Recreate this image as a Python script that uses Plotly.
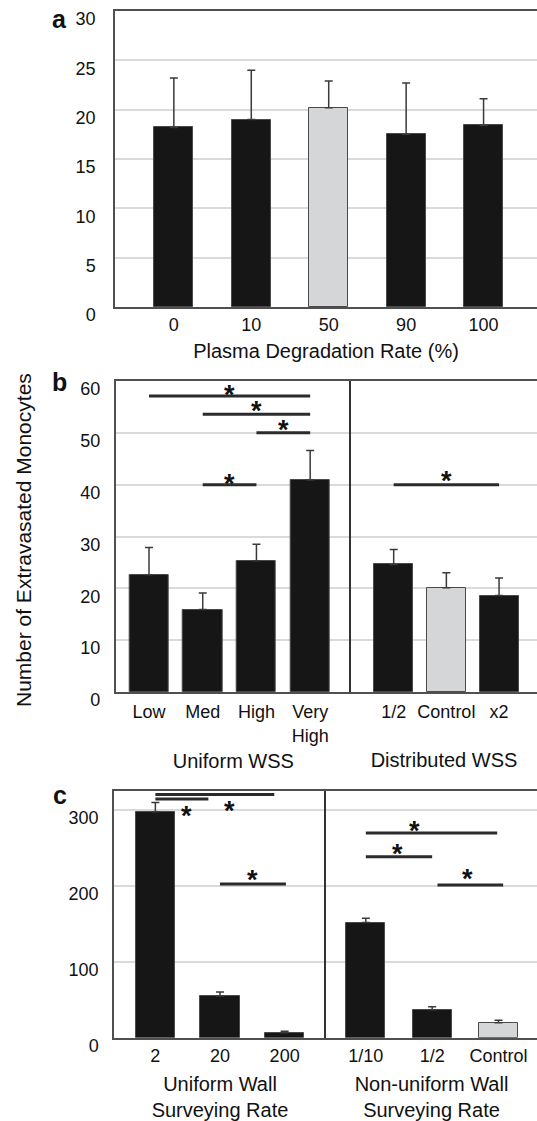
import plotly.graph_objects as go

# ---------------- data ----------------
# Panel a
a_cats = ["0", "10", "50", "90", "100"]
a_vals = [18.2, 19.0, 20.2, 17.5, 18.4]
a_err = [5.0, 5.0, 2.7, 5.2, 2.7]
a_ctrl = [False, False, True, False, False]

# Panel b
b1_cats = ["Low", "Med", "High", "Very<br>High"]
b1_vals = [22.6, 15.9, 25.3, 40.9]
b1_err = [5.3, 3.2, 3.2, 5.7]
b1_ctrl = [False, False, False, False]
b2_cats = ["1/2", "Control", "x2"]
b2_vals = [24.6, 20.1, 18.6]
b2_err = [2.9, 2.9, 3.4]
b2_ctrl = [False, True, False]

# Panel c
c1_cats = ["2", "20", "200"]
c1_vals = [297.8, 55.0, 6.6]
c1_err = [12.2, 5.3, 1.8]
c1_ctrl = [False, False, False]
c2_cats = ["1/10", "1/2", "Control"]
c2_vals = [151.7, 36.9, 19.8]
c2_err = [5.8, 4.0, 3.2]
c2_ctrl = [False, False, True]

# significance bars (category-index units, y in data units)
b1_sig_from = [0, 1, 2, 1]
b1_sig_to = [3, 3, 3, 2]
b1_sig_y = [57.1, 53.6, 50.0, 40.0]
b1_star_x = [1.5, 2.0, 2.5, 1.5]
b1_star_y = [58.5, 55.4, 51.7, 41.2]

b2_sig_from = [0]
b2_sig_to = [2]
b2_sig_y = [40.0]
b2_star_x = [1.0]
b2_star_y = [41.8]

c1_sig_from = [0, 0, 1]
c1_sig_to = [1.84, 0.82, 2.02]
c1_sig_y = [320.5, 314.5, 202.4]
c1_star_x = [0.485, 1.15, 1.5]
c1_star_y = [300.4, 306.0, 215.7]

c2_sig_from = [0, 0, 1.08]
c2_sig_to = [1.98, 1.0, 2.07]
c2_sig_y = [269.7, 238.4, 201.1]
c2_star_x = [0.74, 0.47, 1.54]
c2_star_y = [280.6, 249.9, 216.9]

# ---------------- style ----------------
W, H = 537, 1121
FONT = "Liberation Sans, Arial, Helvetica, sans-serif"
BAR = "#161616"
CTRL = "#d5d6d8"
AXC = "#505050"
GRID = "#dadada"
TICK = 18
TITLE = 20


def fx(p):
    return p / W


def fy(p):
    return 1 - p / H


fig = go.Figure()


def add_bars(cats, vals, err, ctrl, xa, ya, width):
    fig.add_trace(go.Bar(
        x=cats, y=vals, width=width,
        marker=dict(color=[CTRL if c else BAR for c in ctrl],
                    line=dict(color="#4a4a4a", width=1)),
        error_y=dict(type="data", array=err, arrayminus=[0] * len(err),
                     symmetric=False, color="#3a3a3a", thickness=1.5, width=4),
        xaxis=xa, yaxis=ya, showlegend=False, hoverinfo="x+y"))


add_bars(a_cats, a_vals, a_err, a_ctrl, "x", "y", 0.5)
add_bars(b1_cats, b1_vals, b1_err, b1_ctrl, "x2", "y2", 0.73)
add_bars(b2_cats, b2_vals, b2_err, b2_ctrl, "x3", "y3", 0.74)
add_bars(c1_cats, c1_vals, c1_err, c1_ctrl, "x4", "y4", 0.61)
add_bars(c2_cats, c2_vals, c2_err, c2_ctrl, "x5", "y5", 0.59)

shapes = []
annotations = []


def add_sig(xa, ya, f, t, yv, sx, sy):
    for x0, x1, y in zip(f, t, yv):
        shapes.append(dict(type="line", xref=xa, yref=ya, x0=x0, x1=x1, y0=y, y1=y,
                           line=dict(color="#2b2b2b", width=3)))
    for x, y in zip(sx, sy):
        annotations.append(dict(xref=xa, yref=ya, x=x, y=y, text="<b>*</b>",
                                showarrow=False, yanchor="middle", yshift=-6,
                                font=dict(family=FONT, size=27, color="#111")))


add_sig("x2", "y2", b1_sig_from, b1_sig_to, b1_sig_y, b1_star_x, b1_star_y)
add_sig("x3", "y3", b2_sig_from, b2_sig_to, b2_sig_y, b2_star_x, b2_star_y)
add_sig("x4", "y4", c1_sig_from, c1_sig_to, c1_sig_y, c1_star_x, c1_star_y)
add_sig("x5", "y5", c2_sig_from, c2_sig_to, c2_sig_y, c2_star_x, c2_star_y)

# panel letters and shared y title
for letter, px, py in [("a", 60, 19), ("b", 60, 382), ("c", 60, 795)]:
    annotations.append(dict(xref="paper", yref="paper", x=fx(px), y=fy(py), text="<b>%s</b>" % letter,
                            showarrow=False, xanchor="center", yanchor="middle",
                            font=dict(family=FONT, size=25, color="#111")))
annotations.append(dict(xref="paper", yref="paper", x=fx(24), y=fy(540),
                        text="Number of Extravasated Monocytes", textangle=-90,
                        showarrow=False, xanchor="center", yanchor="middle",
                        font=dict(family=FONT, size=21, color="#111")))


def xaxis(dom, rng, title="", standoff=10, anchor="y", tstand=1):
    return dict(domain=[fx(dom[0]), fx(dom[1])], range=rng, type="category",
                showline=True, linecolor=AXC, linewidth=1.5, mirror=True,
                showgrid=False, zeroline=False, ticks="", anchor=anchor,
                automargin=False,
                tickfont=dict(family=FONT, size=TICK, color="#111"),
                ticklabelstandoff=tstand,
                title=dict(text=title, standoff=standoff,
                           font=dict(family=FONT, size=TITLE, color="#111")),
                fixedrange=True)


def yaxis(dom, rng, tv, anchor, labels=True, lc=AXC, stand=10):
    return dict(domain=[fy(dom[1]), fy(dom[0])], range=rng, tickvals=tv,
                showline=True, linecolor=lc, linewidth=1.5, mirror=False,
                showgrid=True, gridcolor=GRID, gridwidth=1.5, zeroline=False,
                ticks="", anchor=anchor, showticklabels=labels, automargin=False,
                tickfont=dict(family=FONT, size=TICK, color="#111"),
                ticklabelstandoff=stand, ticklabelshift=8, fixedrange=True)


fig.update_layout(
    width=W, height=H,
    margin=dict(l=0, r=0, t=0, b=0, autoexpand=False),
    paper_bgcolor="white", plot_bgcolor="white",
    bargap=0,
    font=dict(family=FONT, color="#111"),
    xaxis=xaxis((115, 537), [-0.76, 4.69], "Plasma Degradation Rate (%)", 10, "y", 1),
    yaxis=yaxis((11, 307), [0, 30], [0, 5, 10, 15, 20, 25, 30], "x", stand=14),
    xaxis2=xaxis((115.7, 351), [-0.62, 3.76], "Uniform WSS", 9, "y2", 3),
    yaxis2=yaxis((381, 692), [0, 60], [0, 10, 20, 30, 40, 50, 60], "x2"),
    xaxis3=xaxis((351, 537), [-0.81, 2.72], "Distributed WSS", 32, "y3", 3),
    yaxis3=yaxis((381, 692), [0, 60], [0, 10, 20, 30, 40, 50, 60], "x3",
                 labels=False, lc="#333"),
    xaxis4=xaxis((114, 326), [-0.64, 2.64], "Uniform Wall<br>Surveying Rate", 13, "y4", 1),
    yaxis4=yaxis((791, 1037.7), [0, 325], [0, 100, 200, 300], "x4"),
    xaxis5=xaxis((326, 537), [-0.6, 2.58], "Non-uniform Wall<br>Surveying Rate", 13, "y5", 1),
    yaxis5=yaxis((791, 1037.7), [0, 325], [0, 100, 200, 300], "x5",
                 labels=False, lc="#333"),
    shapes=shapes,
    annotations=annotations,
)

fig.write_html("out.html")
